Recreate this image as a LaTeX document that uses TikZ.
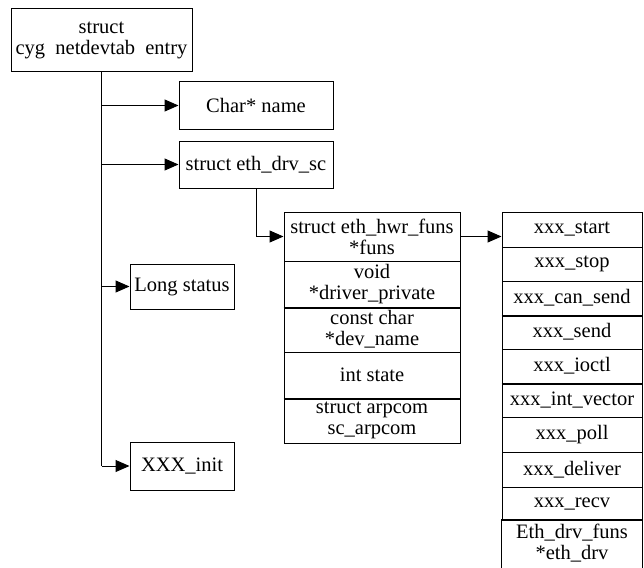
\documentclass[tikz,border=0pt]{standalone}
\usepackage{fontspec}
\setmainfont{Liberation Serif}
\usetikzlibrary{arrows.meta}
\begin{document}
\begin{tikzpicture}[x=1pt,y=-1pt,
  box/.style={draw, line width=1pt, rectangle, inner sep=0pt, align=center, font=\fontsize{20.5}{21}\selectfont},
  mcell/.style={box, minimum width=176pt},
  cell/.style={box, minimum width=140pt},
  link/.style={line width=1pt, -{Triangle[length=14pt,width=12pt]}},
  wire/.style={line width=1pt},
  heavy/.style={line width=2pt}]
\useasboundingbox (0,0) rectangle (644,567);
% left column
\node[box, minimum width=181pt, minimum height=63pt] (root) at (101.5,40.5) {struct\\cyg\hspace{0.5em}netdevtab\hspace{0.5em}entry};
\node[box, minimum width=154pt, minimum height=47pt] (name) at (256,105.5) {Char* name};
\node[box, minimum width=154pt, minimum height=47pt] (sc) at (256,164.5) {struct eth\_drv\_sc};
\node[box, minimum width=104pt, minimum height=45pt] (status) at (182,286.5) {Long status};
\node[box, minimum width=104pt, minimum height=48pt] (init) at (182,466) {XXX\_init};
% middle struct
\node[mcell, minimum height=49pt] (m1) at (372,236.5) {struct eth\_hwr\_funs\\*funs};
\node[mcell, minimum height=46pt] (m2) at (372,284) {void\\ *driver\_private};
\node[mcell, minimum height=45pt] (m3) at (372,329.5) {const char\\*dev\_name};
\node[mcell, minimum height=46pt] (m4) at (372,375) {int state};
\node[mcell, minimum height=45pt] (m5) at (372,420.5) {struct arpcom\\sc\_arpcom};
% right column
\node[cell, minimum height=35pt] (r1) at (572,229.5) {xxx\_start};
\node[cell, minimum height=34pt] (r2) at (572,264) {xxx\_stop};
\node[cell, minimum height=34pt] (r3) at (572,298) {xxx\_can\_send};
\node[cell, minimum height=34pt] (r4) at (572,332) {xxx\_send};
\node[cell, minimum height=34pt] (r5) at (572,366) {xxx\_ioctl};
\node[cell, minimum height=34pt] (r6) at (572,400) {xxx\_int\_vector};
\node[cell, minimum height=35pt] (r7) at (572,434.5) {xxx\_poll};
\node[cell, minimum height=35pt] (r8) at (572,469.5) {xxx\_deliver};
\node[cell, minimum height=33pt] (r9) at (572,503.5) {xxx\_recv};
\node[cell, draw=none, minimum height=47pt] (r10) at (572,543.5) {Eth\_drv\_funs\\*eth\_drv};
\draw[wire] (r10.south west) -- (r10.north west) -- (r10.north east) -- (r10.south east);
% heavier separators
\draw[heavy] (m2.south west) -- (m2.south east);
\draw[heavy] (m4.south west) -- (m4.south east);
\draw[heavy] (r3.south west) -- (r3.south east);
\draw[heavy] (r5.south west) -- (r5.south east);
% connectors
\draw[wire] (root.south) -- (root.south |- init.west);
\draw[link] (root.south |- name.west) -- (name.west);
\draw[link] (root.south |- sc.west) -- (sc.west);
\draw[link] (root.south |- status.west) -- (status.west);
\draw[link] (root.south |- init.west) -- (init.west);
\draw[link] (sc.south) |- (m1.west);
\draw[link] (m1.east) -- (m1.east -| r1.west);
\end{tikzpicture}
\end{document}
